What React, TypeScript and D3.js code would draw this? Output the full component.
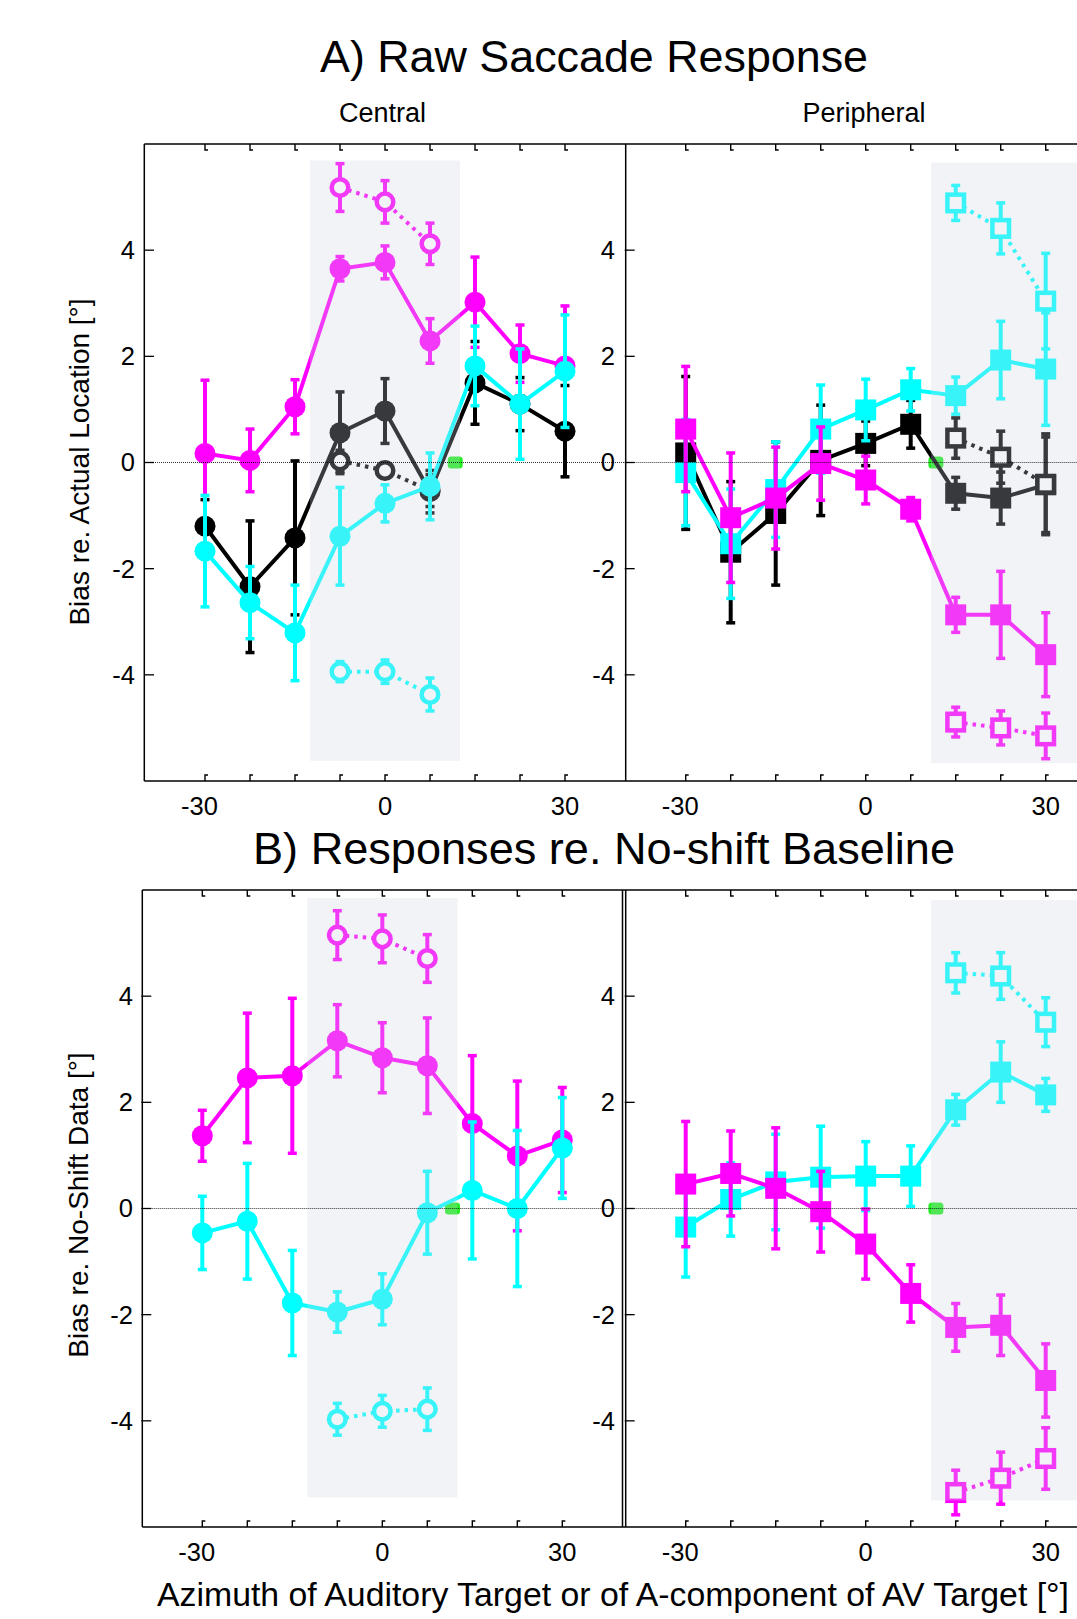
import React from 'react';
import * as d3 from 'd3';

// ---------- DATA ----------
const azimuths = [-30, -22.5, -15, -7.5, 0, 7.5, 15, 22.5, 30];
const centralShiftX = [-7.5, 0, 7.5];
const periphShiftX = [15, 22.5, 30];
const xTickLabels = [-30, 0, 30];
const yTickLabels = [-4, -2, 0, 2, 4];
const visualTargetX = 11.7;

// A) Raw, Central
const rawCenMagenta = [0.17, 0.04, 1.05, 3.65, 3.77, 2.29, 3.02, 2.05, 1.82];
const rawCenMagentaErr = [1.38, 0.59, 0.51, 0.23, 0.31, 0.42, 0.85, 0.54, 1.13];
const rawCenBlack = [-1.2, -2.34, -1.42, 0.56, 0.97, -0.55, 1.5, 1.1, 0.59];
const rawCenBlackErr = [0.5, 1.24, 1.45, 0.77, 0.61, 0.4, 0.78, 0.5, 0.86];
const rawCenCyan = [-1.67, -2.64, -3.21, -1.39, -0.77, -0.45, 1.82, 1.1, 1.72];
const rawCenCyanErr = [1.05, 0.68, 0.9, 0.92, 0.35, 0.63, 0.75, 1.04, 1.06];
const rawCenMagentaShift = [5.18, 4.91, 4.12];
const rawCenMagentaShiftErr = [0.45, 0.4, 0.39];
const rawCenBlackShift = [0.03, -0.15, -0.53];
const rawCenBlackShiftErr = [0.2, 0.12, 0.3];
const rawCenCyanShift = [-3.94, -3.94, -4.37];
const rawCenCyanShiftErr = [0.19, 0.22, 0.31];

// A) Raw, Peripheral
const rawPerBlack = [0.18, -1.69, -0.96, 0.04, 0.36, 0.72, -0.58, -0.67, -0.42];
const rawPerBlackErr = [1.44, 1.33, 1.35, 1.04, 0.42, 0.45, 0.3, 0.49, 0.9];
const rawPerCyan = [-0.19, -1.53, -0.51, 0.63, 0.99, 1.37, 1.26, 1.93, 1.76];
const rawPerCyanErr = [1.0, 1.03, 0.9, 0.83, 0.58, 0.4, 0.35, 0.73, 1.06];
const rawPerMagenta = [0.63, -1.04, -0.67, -0.02, -0.33, -0.88, -2.87, -2.87, -3.62];
const rawPerMagentaErr = [1.18, 1.22, 0.96, 0.69, 0.45, 0.22, 0.33, 0.82, 0.79];
const rawPerCyanShift = [4.89, 4.41, 3.04];
const rawPerCyanShiftErr = [0.33, 0.48, 0.9];
const rawPerBlackShift = [0.46, 0.1, -0.41];
const rawPerBlackShiftErr = [0.38, 0.49, 0.95];
const rawPerMagentaShift = [-4.89, -5.0, -5.15];
const rawPerMagentaShiftErr = [0.28, 0.32, 0.43];

// B) re. No-shift, Central
const relCenMagenta = [1.37, 2.46, 2.5, 3.16, 2.84, 2.69, 1.6, 0.99, 1.29];
const relCenMagentaErr = [0.48, 1.22, 1.46, 0.68, 0.66, 0.9, 1.28, 1.41, 0.99];
const relCenCyan = [-0.46, -0.24, -1.78, -1.95, -1.71, -0.08, 0.34, 0.0, 1.14];
const relCenCyanErr = [0.69, 1.09, 0.99, 0.38, 0.48, 0.78, 1.29, 1.47, 0.95];
const relCenMagentaShift = [5.15, 5.08, 4.71];
const relCenMagentaShiftErr = [0.46, 0.45, 0.45];
const relCenCyanShift = [-3.97, -3.82, -3.78];
const relCenCyanShiftErr = [0.3, 0.3, 0.4];

// B) re. No-shift, Peripheral
const relPerCyan = [-0.35, 0.17, 0.5, 0.59, 0.61, 0.61, 1.86, 2.57, 2.14];
const relPerCyanErr = [0.94, 0.69, 0.9, 0.96, 0.65, 0.57, 0.29, 0.57, 0.31];
const relPerMagenta = [0.46, 0.66, 0.38, -0.06, -0.67, -1.6, -2.24, -2.2, -3.24];
const relPerMagentaErr = [1.18, 0.8, 1.14, 0.76, 0.66, 0.54, 0.45, 0.57, 0.69];
const relPerCyanShift = [4.44, 4.38, 3.51];
const relPerCyanShiftErr = [0.38, 0.44, 0.46];
const relPerMagentaShift = [-5.35, -5.08, -4.71];
const relPerMagentaShiftErr = [0.42, 0.49, 0.58];

// ---------- STYLE ----------
const MAGENTA = '#ff00ff';
const CYAN = '#00ffff';
const BLACK = '#000000';
const GREEN = '#22ee22';
const FONT = '"Liberation Sans", Arial, Helvetica, sans-serif';

type Series = {
  x: number[];
  y: number[];
  err: number[];
  color: string;
  marker: 'circle' | 'square';
  filled: boolean;
};

type PanelProps = {
  xRange: [number, number];
  yRange: [number, number];
  shade: [number, number, number, number]; // x0, x1, yTop, yBottom (data)
  series: Series[];
  labelEnd: number;
};

const mk = (x: number[], y: number[], err: number[], color: string, marker: 'circle' | 'square', filled: boolean): Series => ({ x, y, err, color, marker, filled });

function Panel({ xRange, yRange, shade, series, labelEnd }: PanelProps) {
  const xs = d3.scaleLinear().domain([-40, 40]).range(xRange);
  const ys = d3.scaleLinear().domain([-6, 6]).range(yRange);
  return (
    <g>
      <rect x={xs(visualTargetX) - 7.5} y={ys(0) - 6} width={15} height={12} rx={3.5} fill={GREEN} />
      {series.map((s, si) => {
        const pts = s.x.map((xv, i) => [xs(xv), ys(s.y[i])] as [number, number]);
        const line = d3.line()(pts) || '';
        return (
          <g key={si}>
            <path d={line} fill="none" stroke={s.color} strokeWidth={4}
              strokeDasharray={s.filled ? undefined : '3.5 5'} strokeLinejoin="round" />
            {s.x.map((xv, i) => {
              const cx = xs(xv);
              const y1 = ys(s.y[i] + s.err[i]);
              const y2 = ys(s.y[i] - s.err[i]);
              return (
                <g key={i}>
                  <line x1={cx} x2={cx} y1={y1} y2={y2} stroke={s.color} strokeWidth={4} />
                  <line x1={cx - 4.5} x2={cx + 4.5} y1={y1} y2={y1} stroke={s.color} strokeWidth={3.5} />
                  <line x1={cx - 4.5} x2={cx + 4.5} y1={y2} y2={y2} stroke={s.color} strokeWidth={3.5} />
                </g>
              );
            })}
            {pts.map(([cx, cy], i) => {
              if (s.marker === 'circle') {
                return s.filled
                  ? <circle key={'m' + i} cx={cx} cy={cy} r={10.5} fill={s.color} />
                  : <circle key={'m' + i} cx={cx} cy={cy} r={8.3} fill="white" stroke={s.color} strokeWidth={4.5} />;
              }
              return s.filled
                ? <rect key={'m' + i} x={cx - 10.5} y={cy - 10.5} width={21} height={21} fill={s.color} />
                : <rect key={'m' + i} x={cx - 8.3} y={cy - 8.3} width={16.6} height={16.6} fill="white" stroke={s.color} strokeWidth={4.5} />;
            })}
          </g>
        );
      })}
      {/* translucent shading over the shifted-target range */}
      <rect x={xs(shade[0])} y={ys(shade[2])} width={xs(shade[1]) - xs(shade[0])} height={ys(shade[3]) - ys(shade[2])}
        fill="rgb(207,210,225)" fillOpacity={0.27} />
      {/* zero line */}
      <line x1={xRange[0]} x2={xRange[1]} y1={ys(0)} y2={ys(0)} stroke="#000" strokeWidth={0.8} strokeDasharray="1 1" />
      {/* x ticks top & bottom */}
      {azimuths.map((a, i) => (
        <g key={'xt' + i} stroke="#000" strokeWidth={1.4} fill="none">
          <path d={`M${xs(a)},${yRange[1]} V${yRange[1] + 6} h3`} />
          <path d={`M${xs(a)},${yRange[0]} V${yRange[0] - 6} h3`} />
        </g>
      ))}
      {/* y ticks */}
      {yTickLabels.map((v, i) => (
        <g key={'yt' + i}>
          <line x1={xRange[0] - 1} x2={xRange[0] + 9} y1={ys(v)} y2={ys(v)} stroke="#000" strokeWidth={1.3} />
          <text x={labelEnd} y={ys(v)} dy="0.35em" textAnchor="end" fontSize={25.5} fontFamily={FONT}>{v}</text>
        </g>
      ))}
      {/* x tick labels */}
      {xTickLabels.map((v, i) => (
        <text key={'xl' + i} x={xs(v) - (v < 0 ? 5.5 : 0)} y={yRange[0] + 34} textAnchor="middle" fontSize={25.5} fontFamily={FONT}>{v}</text>
      ))}
    </g>
  );
}

export default function App() {
  const W = 1077, H = 1619;
  const topY: [number, number] = [781, 144];
  const botY: [number, number] = [1527, 890];
  const tlX: [number, number] = [145, 625];
  const trX: [number, number] = [625.7, 1105.7];
  const blX: [number, number] = [142.3, 622.3];
  const brX: [number, number] = [625.7, 1105.7];

  const tlSeries = [
    mk(azimuths, rawCenMagenta, rawCenMagentaErr, MAGENTA, 'circle', true),
    mk(azimuths, rawCenBlack, rawCenBlackErr, BLACK, 'circle', true),
    mk(centralShiftX, rawCenMagentaShift, rawCenMagentaShiftErr, MAGENTA, 'circle', false),
    mk(centralShiftX, rawCenBlackShift, rawCenBlackShiftErr, BLACK, 'circle', false),
    mk(centralShiftX, rawCenCyanShift, rawCenCyanShiftErr, CYAN, 'circle', false),
    mk(azimuths, rawCenCyan, rawCenCyanErr, CYAN, 'circle', true),
  ];
  const trSeries = [
    mk(azimuths, rawPerBlack, rawPerBlackErr, BLACK, 'square', true),
    mk(azimuths, rawPerCyan, rawPerCyanErr, CYAN, 'square', true),
    mk(azimuths, rawPerMagenta, rawPerMagentaErr, MAGENTA, 'square', true),
    mk(periphShiftX, rawPerCyanShift, rawPerCyanShiftErr, CYAN, 'square', false),
    mk(periphShiftX, rawPerBlackShift, rawPerBlackShiftErr, BLACK, 'square', false),
    mk(periphShiftX, rawPerMagentaShift, rawPerMagentaShiftErr, MAGENTA, 'square', false),
  ];
  const blSeries = [
    mk(azimuths, relCenMagenta, relCenMagentaErr, MAGENTA, 'circle', true),
    mk(azimuths, relCenCyan, relCenCyanErr, CYAN, 'circle', true),
    mk(centralShiftX, relCenMagentaShift, relCenMagentaShiftErr, MAGENTA, 'circle', false),
    mk(centralShiftX, relCenCyanShift, relCenCyanShiftErr, CYAN, 'circle', false),
  ];
  const brSeries = [
    mk(azimuths, relPerCyan, relPerCyanErr, CYAN, 'square', true),
    mk(azimuths, relPerMagenta, relPerMagentaErr, MAGENTA, 'square', true),
    mk(periphShiftX, relPerCyanShift, relPerCyanShiftErr, CYAN, 'square', false),
    mk(periphShiftX, relPerMagentaShift, relPerMagentaShiftErr, MAGENTA, 'square', false),
  ];

  return (
    <div style={{ position: 'absolute', left: 0, top: 0, width: W, height: H, background: '#fff' }}>
      <svg width={W} height={H} style={{ display: 'block' }}>
        <rect width={W} height={H} fill="#fff" />
        <Panel xRange={tlX} yRange={topY} shade={[-12.5, 12.5, 5.69, -5.62]} series={tlSeries} labelEnd={135} />
        <Panel xRange={trX} yRange={topY} shade={[10.9, 45, 5.65, -5.66]} series={trSeries} labelEnd={615} />
        <Panel xRange={blX} yRange={botY} shade={[-12.5, 12.5, 5.85, -5.44]} series={blSeries} labelEnd={133} />
        <Panel xRange={brX} yRange={botY} shade={[10.9, 45, 5.81, -5.5]} series={brSeries} labelEnd={615} />

        {/* frames */}
        <g stroke="#000" strokeWidth={1.5} fill="none">
          <line x1={144.3} x2={W} y1={144} y2={144} />
          <line x1={144.3} x2={W} y1={781} y2={781} />
          <line x1={144.3} x2={144.3} y1={144} y2={781} />
          <line x1={625.7} x2={625.7} y1={144} y2={781} />
          <line x1={142.3} x2={W} y1={890} y2={890} />
          <line x1={142.3} x2={W} y1={1527} y2={1527} />
          <line x1={142.3} x2={142.3} y1={890} y2={1527} />
          <line x1={622.5} x2={622.5} y1={890} y2={1527} />
          <line x1={625.7} x2={625.7} y1={890} y2={1527} />
        </g>

        {/* titles */}
        <text x={594} y={72} textAnchor="middle" fontSize={45} fontFamily={FONT} textLength={548} lengthAdjust="spacingAndGlyphs">A) Raw Saccade Response</text>
        <text x={382.5} y={122} textAnchor="middle" fontSize={27} fontFamily={FONT}>Central</text>
        <text x={864} y={122} textAnchor="middle" fontSize={27} fontFamily={FONT}>Peripheral</text>
        <text x={604} y={864} textAnchor="middle" fontSize={45} fontFamily={FONT} textLength={702} lengthAdjust="spacingAndGlyphs">B) Responses re. No-shift Baseline</text>

        {/* axis titles */}
        <text transform="translate(89,462) rotate(-90)" textAnchor="middle" fontSize={28} fontFamily={FONT}>Bias re. Actual Location [°]</text>
        <text transform="translate(88,1205) rotate(-90)" textAnchor="middle" fontSize={28} fontFamily={FONT}>Bias re. No-Shift Data [°]</text>
        <text x={157} y={1606} fontSize={34} fontFamily={FONT} textLength={912} lengthAdjust="spacingAndGlyphs">Azimuth of Auditory Target or of A-component of AV Target [°]</text>
      </svg>
    </div>
  );
}
